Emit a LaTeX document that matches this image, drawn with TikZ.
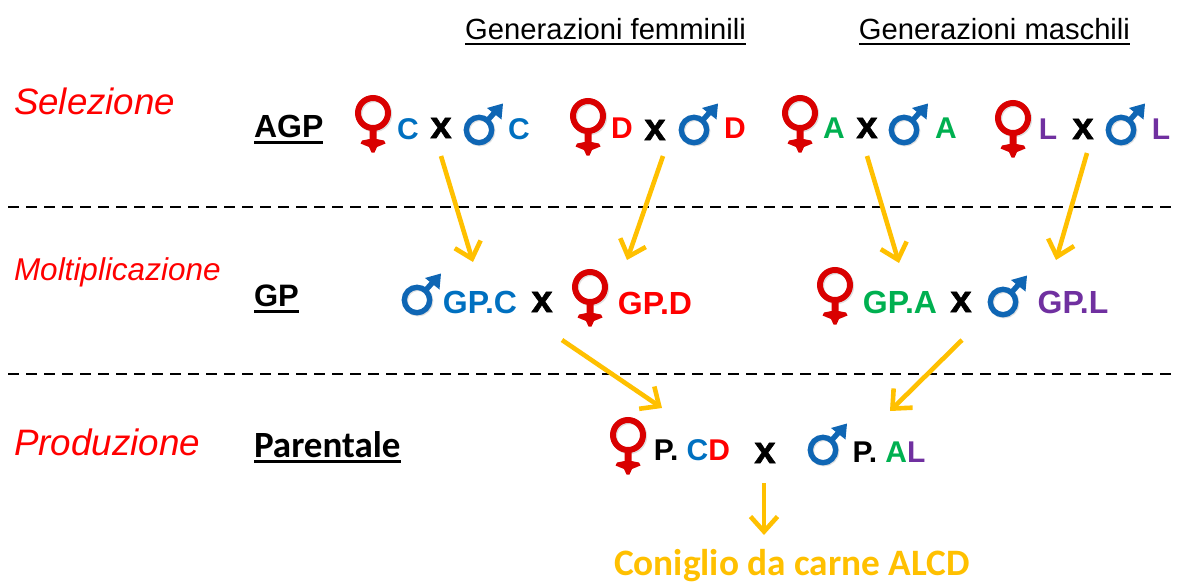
\documentclass[tikz,border=0pt]{standalone}
\usepackage{fontspec}
\setmainfont{Liberation Sans}
\newfontfamily\carlito{Carlito}
\newfontface\heavyx[FakeBold=1.6]{Liberation Sans Bold}
\usetikzlibrary{arrows.meta}
\definecolor{gold}{HTML}{FFC000}
\definecolor{ringred}{HTML}{D90000}
\definecolor{ringblue}{HTML}{0F66B4}
\definecolor{cblue}{HTML}{0070C0}
\definecolor{dred}{HTML}{FF0000}
\definecolor{agreen}{HTML}{00B050}
\definecolor{lpurple}{HTML}{7030A0}
\newcommand{\fs}[1]{\fontsize{#1}{#1}\selectfont}
\newcommand{\barred}[3]{\setbox0\hbox{#3}\rlap{\copy0}\rule[-#1pt]{\wd0}{#2pt}}
\tikzset{
  x=1pt,y=-1pt,
  every node/.style={inner sep=0pt,outer sep=0pt},
  head/.style={anchor=base,font=\fs{29.2}},
  stage/.style={anchor=west,text=red,font=\itshape\fs{#1}},
  level/.style={anchor=base west,font=\bfseries\fs{#1}},
  gene/.style={font=\bfseries\fs{30}},
  genewide/.style={font=\bfseries\fs{32}},
  cross/.style={font=\heavyx\fs{38}},
  flow/.style={draw=gold,line width=4.6pt,-{Straight Barb[length=15pt,width=27pt,line width=4.6pt]}},
  divider/.style={draw=black,line width=2.5pt,dash pattern=on 11pt off 7pt},
  female/.pic={
    \draw[draw=black!12,line width=6pt] (1.2,1.2) circle (15);
    \fill[ringred] (-3.5,12) -- (3.5,12) -- (3.5,26) -- (11,27.5) -- (12.5,30.5) -- (4,34) -- (1.5,39.5) -- (-1.5,39.5) -- (-4,34) -- (-12.5,30.5) -- (-11,27.5) -- (-3.5,26) -- cycle;
    \draw[draw=ringred,line width=6pt] (0,0) circle (15);
  },
  male/.pic={
    \draw[draw=black!12,line width=5.4pt] (1,1) circle (12.7);
    \draw[draw=ringblue,line width=5.4pt] (0,0) circle (12.7);
    \draw[draw=ringblue,line width=5.4pt] (8,-9) -- (16,-18);
    \fill[ringblue] (8,-22) -- (24,-26.5) -- (22.5,-10.5) -- cycle;
  }
}
\begin{document}
\begin{tikzpicture}
\useasboundingbox (0,0) rectangle (1178,584);
% headings
\node[head] (hf) at (605.5,39) {\barred{5.5}{1.8}{Generazioni femminili}};
\node[head] (hm) at (994.5,39) {\barred{5.5}{1.8}{Generazioni maschili}};
% stages
\node[stage=36.7] (sel) at (14,101) {Selezione};
\node[stage=31.5] (mol) at (14,272.5) {Moltiplicazione};
\node[stage=36.8] (pro) at (14,442) {Produzione};
% levels
\node[level=32] (agp) at (254,137) {\barred{6.5}{2.8}{AGP}};
\node[level=31] (gp) at (254,306) {\barred{6.5}{2.8}{GP}};
\node[anchor=base west,font=\carlito\bfseries\fs{37}] (par) at (254,457) {\barred{5.5}{2.4}{Parentale}};
% dividers
\coordinate (d1l) at (8,207); \coordinate (d1r) at (1178,207);
\coordinate (d2l) at (8,374); \coordinate (d2r) at (1178,374);
\draw[divider] (d1l) -- (d1r);
\draw[divider] (d2l) -- (d2r);
% AGP row
\pic at (373,113) {female};
\node[gene,text=cblue] (c1) at (408,129) {C};
\node[cross] (x1) at (441,128) {x};
\pic at (479,130) {male};
\node[gene,text=cblue] (c2) at (519,129) {C};
\pic at (588,116) {female};
\node[gene,text=dred] (d1) at (622,128) {D};
\node[cross] (x2) at (655,130) {x};
\pic at (694,130) {male};
\node[gene,text=dred] (d2) at (735,128) {D};
\pic at (800,113) {female};
\node[gene,text=agreen] (a1) at (834,128) {A};
\node[cross] (x3) at (867,128) {x};
\pic at (904,130) {male};
\node[gene,text=agreen] (a2) at (946,128) {A};
\pic at (1013,118) {female};
\node[gene,text=lpurple] (l1) at (1048,129) {L};
\node[cross] (x4) at (1083,129) {x};
\pic at (1121,130) {male};
\node[gene,text=lpurple] (l2) at (1161,129) {L};
% GP row
\pic at (417,300) {male};
\node[genewide,text=cblue] (gpc) at (480,302) {GP.C};
\node[cross] (x5) at (542,302) {x};
\pic at (590,287) {female};
\node[genewide,text=dred] (gpd) at (655,303) {GP.D};
\pic at (835,285) {female};
\node[genewide,text=agreen] (gpa) at (900,302) {GP.A};
\node[cross] (x6) at (961,302) {x};
\pic at (1003,302) {male};
\node[genewide,text=lpurple] (gpl) at (1073,302) {GP.L};
% Parental row
\pic at (628,435) {female};
\node[gene] (pcd) at (692,450) {P. \textcolor{cblue}{C}\textcolor{dred}{D}};
\node[cross] (x7) at (765,453) {x};
\pic at (823,450) {male};
\node[gene] (pal) at (889,452) {P. \textcolor{agreen}{A}\textcolor{lpurple}{L}};
% result
\node[font=\carlito\bfseries\fs{37.3},text=gold] (res) at (792,566) {Coniglio da carne ALCD};
% flows
\coordinate (s1) at (441,156); \coordinate (e1) at (473,262);
\coordinate (s2) at (663,156); \coordinate (e2) at (627,260);
\coordinate (s3) at (867,156); \coordinate (e3) at (899,263);
\coordinate (s4) at (1087,153); \coordinate (e4) at (1056,260);
\coordinate (s5) at (562,340); \coordinate (e5) at (662,408);
\coordinate (s6) at (962,340); \coordinate (e6) at (890,411);
\coordinate (s7) at (764,483); \coordinate (e7) at (764,535);
\foreach \i in {1,...,7} \draw[flow] (s\i) -- (e\i);
\end{tikzpicture}
\end{document}
